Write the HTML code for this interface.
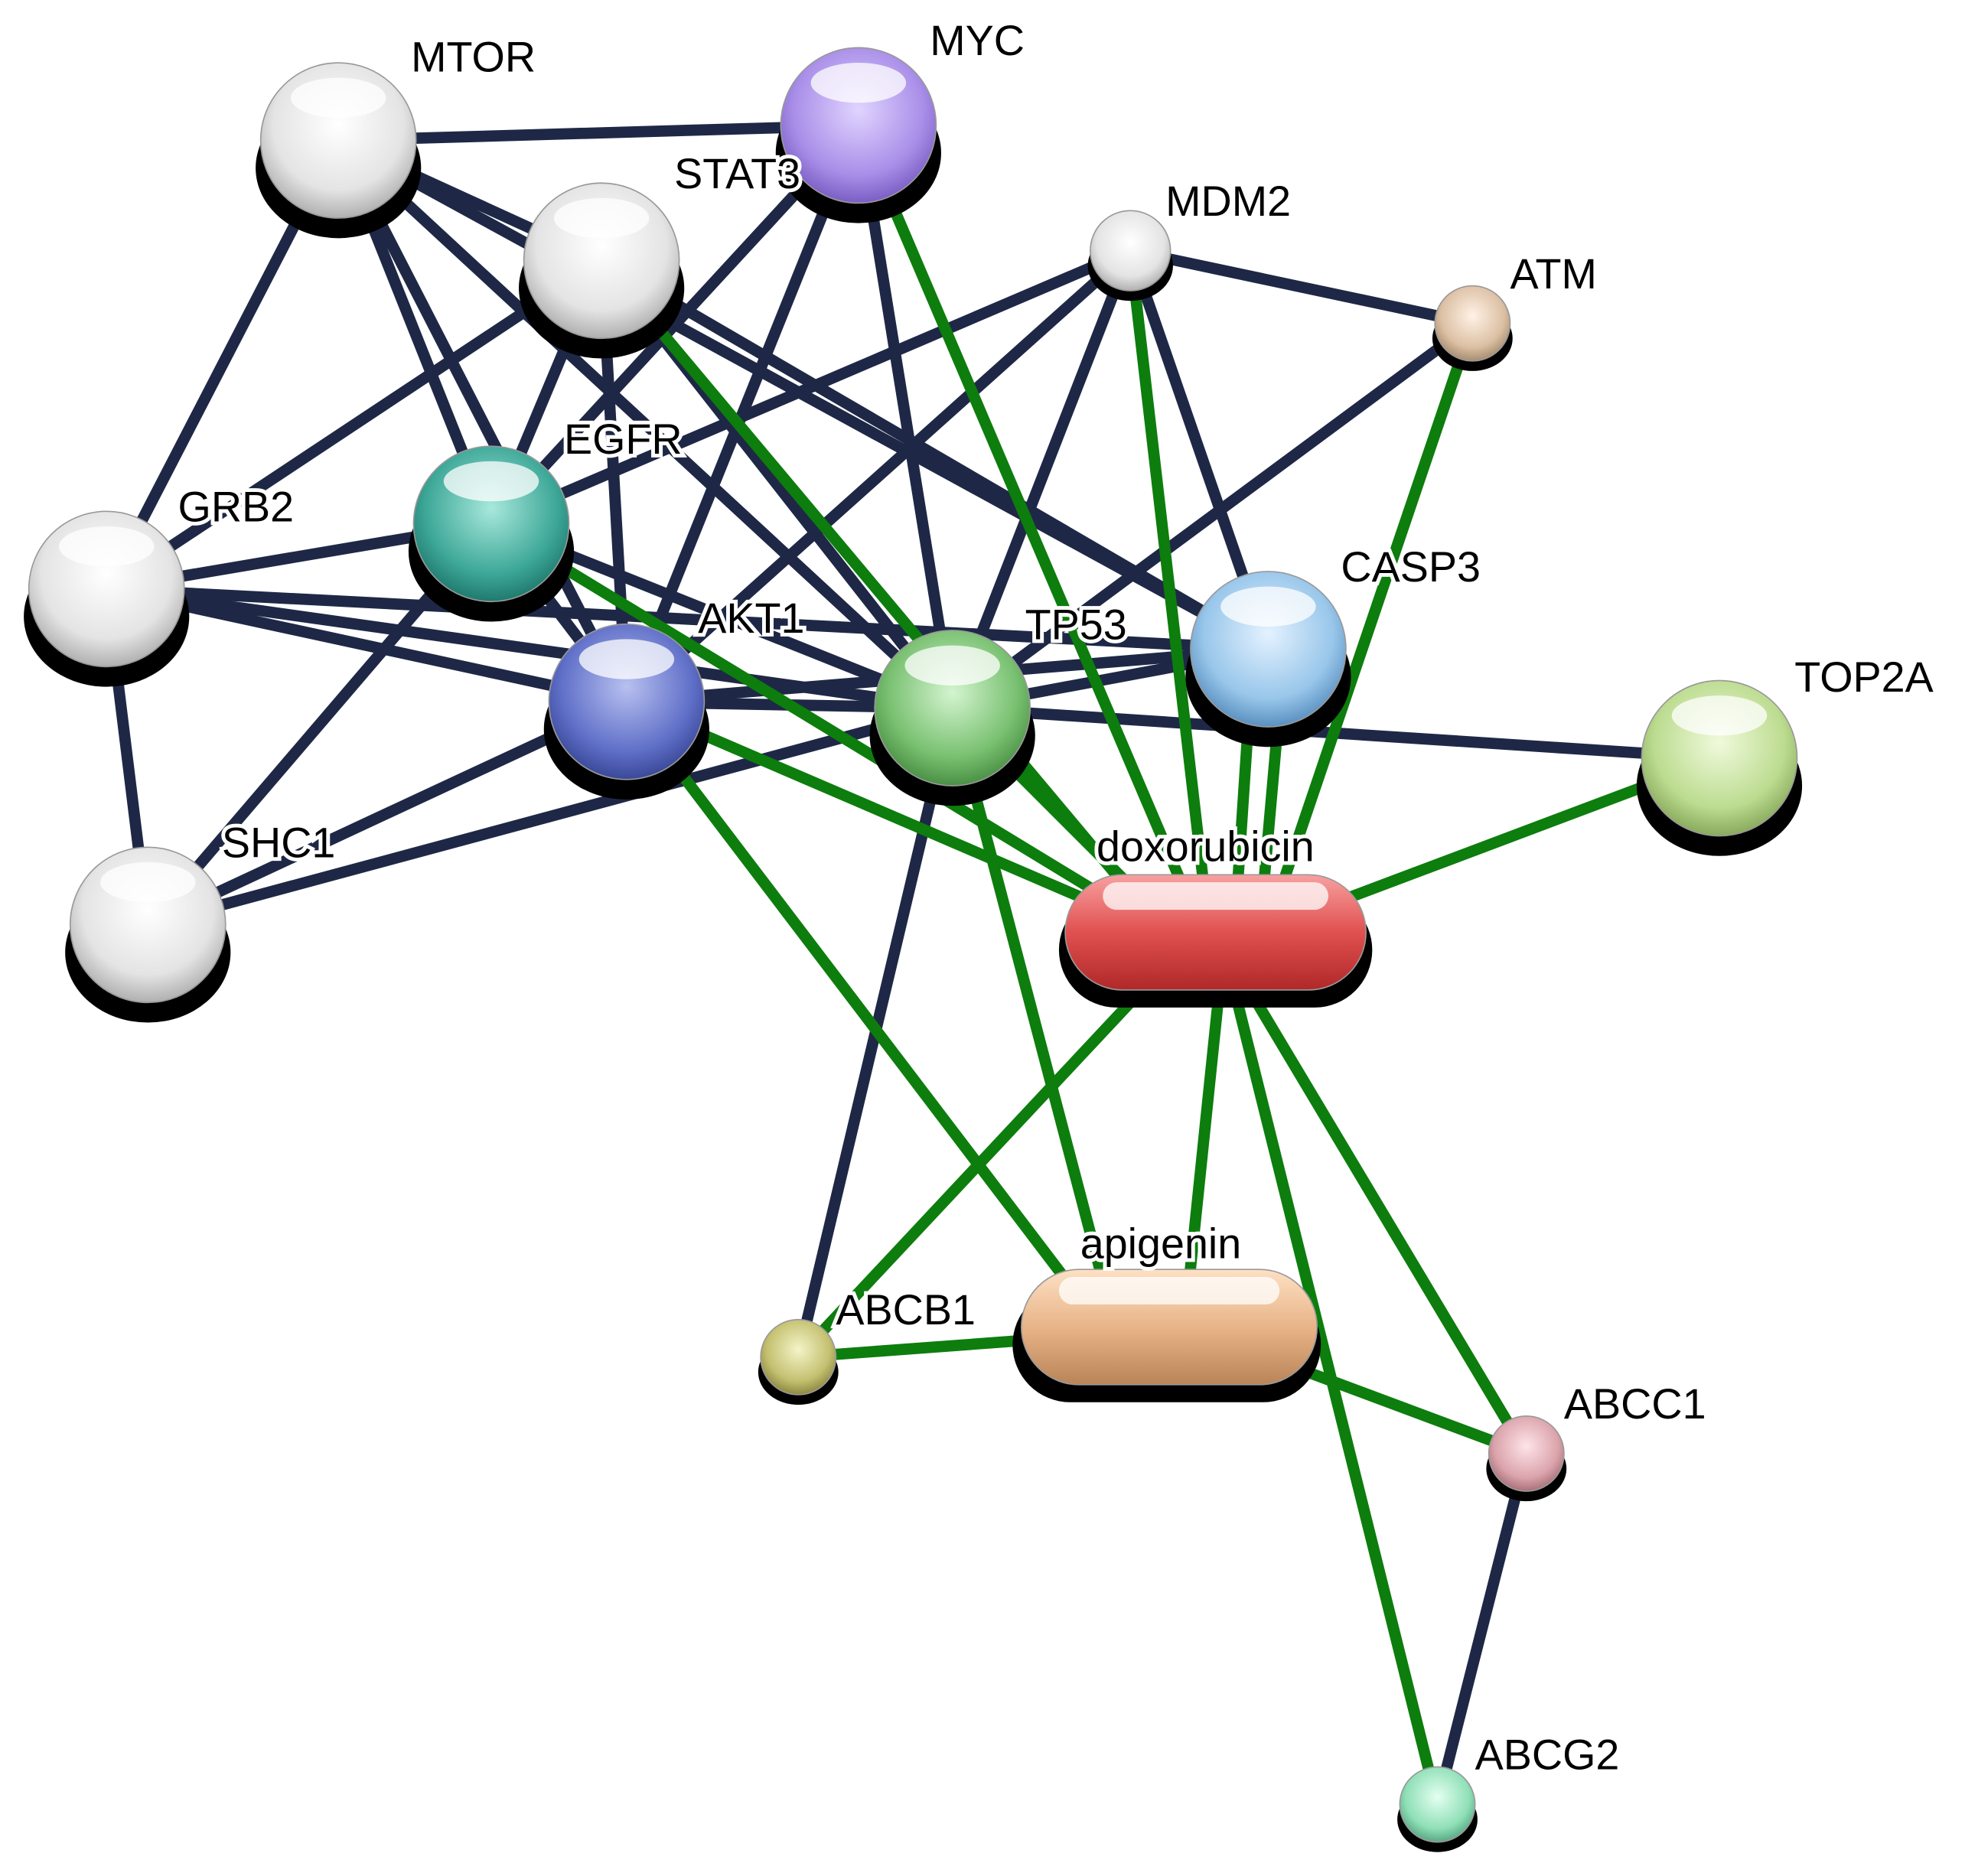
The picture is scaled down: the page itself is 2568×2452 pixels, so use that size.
<!DOCTYPE html>
<html><head><meta charset="utf-8"><style>
html,body{margin:0;padding:0;background:#fff;}
svg{display:block;}
text{font-family:"Liberation Sans",sans-serif;font-size:34px;fill:#000;stroke:#fff;stroke-width:6px;paint-order:stroke;}
</style></head><body>
<svg width="2568" height="2452" viewBox="0 0 1568 1497" xmlns="http://www.w3.org/2000/svg">
<defs>
<radialGradient id="gw" cx="50%" cy="40%" r="60%"><stop offset="0" stop-color="#fff"/><stop offset=".7" stop-color="#e4e4e4"/><stop offset="1" stop-color="#b0b0b0"/></radialGradient>
<radialGradient id="gm" cx="50%" cy="40%" r="60%"><stop offset="0" stop-color="#e0d4ff"/><stop offset=".7" stop-color="#a98ee8"/><stop offset="1" stop-color="#7a5ec4"/></radialGradient>
<radialGradient id="ge" cx="50%" cy="40%" r="60%"><stop offset="0" stop-color="#a8e8dc"/><stop offset=".7" stop-color="#3ea898"/><stop offset="1" stop-color="#1f7a6e"/></radialGradient>
<radialGradient id="ga" cx="50%" cy="40%" r="60%"><stop offset="0" stop-color="#b8c0f0"/><stop offset=".7" stop-color="#6070c8"/><stop offset="1" stop-color="#3a4898"/></radialGradient>
<radialGradient id="gt" cx="50%" cy="40%" r="60%"><stop offset="0" stop-color="#d4f4d0"/><stop offset=".7" stop-color="#78c070"/><stop offset="1" stop-color="#4a9045"/></radialGradient>
<radialGradient id="gc" cx="50%" cy="40%" r="60%"><stop offset="0" stop-color="#e4f2ff"/><stop offset=".7" stop-color="#98c6ea"/><stop offset="1" stop-color="#5a90c0"/></radialGradient>
<radialGradient id="gp" cx="50%" cy="40%" r="60%"><stop offset="0" stop-color="#f0fadc"/><stop offset=".7" stop-color="#bcdc90"/><stop offset="1" stop-color="#88aa5c"/></radialGradient>
<radialGradient id="gatm" cx="50%" cy="40%" r="60%"><stop offset="0" stop-color="#fff2e6"/><stop offset=".7" stop-color="#dcc0a4"/><stop offset="1" stop-color="#a88c70"/></radialGradient>
<radialGradient id="gb1" cx="50%" cy="40%" r="60%"><stop offset="0" stop-color="#f4f4c8"/><stop offset=".7" stop-color="#c4c070"/><stop offset="1" stop-color="#8c8840"/></radialGradient>
<radialGradient id="gcc" cx="50%" cy="40%" r="60%"><stop offset="0" stop-color="#fde4e8"/><stop offset=".7" stop-color="#dca4ac"/><stop offset="1" stop-color="#a87078"/></radialGradient>
<radialGradient id="gg2" cx="50%" cy="40%" r="60%"><stop offset="0" stop-color="#e4fff0"/><stop offset=".7" stop-color="#90e0b8"/><stop offset="1" stop-color="#58a884"/></radialGradient>
<linearGradient id="gdox" x1="0" y1="0" x2="0" y2="1"><stop offset="0" stop-color="#f8a0a0"/><stop offset=".5" stop-color="#e05050"/><stop offset="1" stop-color="#b02828"/></linearGradient>
<linearGradient id="gapi" x1="0" y1="0" x2="0" y2="1"><stop offset="0" stop-color="#fde0c4"/><stop offset=".5" stop-color="#e8b488"/><stop offset="1" stop-color="#b88458"/></linearGradient>
</defs>

<g stroke="#1e2846" stroke-width="9" stroke-linecap="round">
<line x1="270" y1="112" x2="685" y2="100"/>
<line x1="270" y1="112" x2="480" y2="208"/>
<line x1="270" y1="112" x2="392" y2="418"/>
<line x1="270" y1="112" x2="85" y2="470"/>
<line x1="270" y1="112" x2="500" y2="560"/>
<line x1="270" y1="112" x2="760" y2="565"/>
<line x1="270" y1="112" x2="1012" y2="518"/>
<line x1="685" y1="100" x2="392" y2="418"/>
<line x1="685" y1="100" x2="500" y2="560"/>
<line x1="685" y1="100" x2="760" y2="565"/>
<line x1="480" y1="208" x2="392" y2="418"/>
<line x1="480" y1="208" x2="85" y2="470"/>
<line x1="480" y1="208" x2="500" y2="560"/>
<line x1="480" y1="208" x2="760" y2="565"/>
<line x1="480" y1="208" x2="1012" y2="518"/>
<line x1="902" y1="200" x2="1175" y2="258"/>
<line x1="902" y1="200" x2="392" y2="418"/>
<line x1="902" y1="200" x2="500" y2="560"/>
<line x1="902" y1="200" x2="760" y2="565"/>
<line x1="902" y1="200" x2="1012" y2="518"/>
<line x1="1175" y1="258" x2="760" y2="565"/>
<line x1="392" y1="418" x2="85" y2="470"/>
<line x1="392" y1="418" x2="500" y2="560"/>
<line x1="392" y1="418" x2="760" y2="565"/>
<line x1="392" y1="418" x2="118" y2="738"/>
<line x1="85" y1="470" x2="500" y2="560"/>
<line x1="85" y1="470" x2="760" y2="565"/>
<line x1="85" y1="470" x2="1012" y2="518"/>
<line x1="85" y1="470" x2="118" y2="738"/>
<line x1="500" y1="560" x2="760" y2="565"/>
<line x1="500" y1="560" x2="118" y2="738"/>
<line x1="500" y1="560" x2="1012" y2="518"/>
<line x1="760" y1="565" x2="118" y2="738"/>
<line x1="760" y1="565" x2="1012" y2="518"/>
<line x1="760" y1="565" x2="1372" y2="605"/>
<line x1="760" y1="565" x2="637" y2="1083"/>
<line x1="1218" y1="1160" x2="1147" y2="1440"/>
</g>
<g stroke="#0d7d0d" stroke-width="9" stroke-linecap="round">
<line x1="685" y1="100" x2="960" y2="745"/>
<line x1="480" y1="208" x2="930" y2="745"/>
<line x1="392" y1="418" x2="930" y2="745"/>
<line x1="500" y1="560" x2="930" y2="745"/>
<line x1="500" y1="560" x2="880" y2="1060"/>
<line x1="760" y1="565" x2="940" y2="745"/>
<line x1="760" y1="565" x2="890" y2="1060"/>
<line x1="902" y1="200" x2="965" y2="745"/>
<line x1="1000" y1="518" x2="985" y2="745"/>
<line x1="1025" y1="518" x2="1005" y2="745"/>
<line x1="1175" y1="258" x2="1010" y2="745"/>
<line x1="1372" y1="605" x2="1000" y2="745"/>
<line x1="930" y1="770" x2="637" y2="1083"/>
<line x1="975" y1="770" x2="945" y2="1060"/>
<line x1="985" y1="770" x2="1218" y2="1160"/>
<line x1="980" y1="770" x2="1147" y2="1440"/>
<line x1="637" y1="1083" x2="880" y2="1065"/>
<line x1="990" y1="1075" x2="1218" y2="1160"/>
</g>

<g fill="#000">
<ellipse cx="270" cy="134" rx="66" ry="56"/>
<ellipse cx="685" cy="122" rx="66" ry="56"/>
<ellipse cx="480" cy="230" rx="66" ry="56"/>
<ellipse cx="902" cy="212" rx="34" ry="28"/>
<ellipse cx="1175" cy="270" rx="32" ry="26"/>
<ellipse cx="392" cy="440" rx="66" ry="56"/>
<ellipse cx="85" cy="492" rx="66" ry="56"/>
<ellipse cx="500" cy="582" rx="66" ry="56"/>
<ellipse cx="760" cy="587" rx="66" ry="56"/>
<ellipse cx="1012" cy="540" rx="66" ry="56"/>
<ellipse cx="1372" cy="627" rx="66" ry="56"/>
<ellipse cx="118" cy="760" rx="66" ry="56"/>
<ellipse cx="637" cy="1095" rx="32" ry="26"/>
<ellipse cx="1218" cy="1172" rx="32" ry="26"/>
<ellipse cx="1147" cy="1452" rx="32" ry="26"/>
<rect x="845" y="712" width="250" height="92" rx="46"/>
<rect x="808" y="1027" width="246" height="92" rx="46"/>
</g>

<g stroke="#999" stroke-width="1">
<circle cx="270" cy="112" r="62" fill="url(#gw)"/>
<circle cx="685" cy="100" r="62" fill="url(#gm)"/>
<circle cx="480" cy="208" r="62" fill="url(#gw)"/>
<circle cx="902" cy="200" r="32" fill="url(#gw)"/>
<circle cx="1175" cy="258" r="30" fill="url(#gatm)"/>
<circle cx="392" cy="418" r="62" fill="url(#ge)"/>
<circle cx="85" cy="470" r="62" fill="url(#gw)"/>
<circle cx="500" cy="560" r="62" fill="url(#ga)"/>
<circle cx="760" cy="565" r="62" fill="url(#gt)"/>
<circle cx="1012" cy="518" r="62" fill="url(#gc)"/>
<circle cx="1372" cy="605" r="62" fill="url(#gp)"/>
<circle cx="118" cy="738" r="62" fill="url(#gw)"/>
<circle cx="637" cy="1083" r="30" fill="url(#gb1)"/>
<circle cx="1218" cy="1160" r="30" fill="url(#gcc)"/>
<circle cx="1147" cy="1440" r="30" fill="url(#gg2)"/>
<rect x="850" y="698" width="240" height="92" rx="46" fill="url(#gdox)"/>
<rect x="815" y="1013" width="236" height="92" rx="46" fill="url(#gapi)"/>
</g>
<g fill="#fff" opacity=".75">
<ellipse cx="270" cy="78" rx="38" ry="16"/>
<ellipse cx="685" cy="66" rx="38" ry="16"/>
<ellipse cx="480" cy="174" rx="38" ry="16"/>
<ellipse cx="392" cy="384" rx="38" ry="16"/>
<ellipse cx="85" cy="436" rx="38" ry="16"/>
<ellipse cx="500" cy="526" rx="38" ry="16"/>
<ellipse cx="760" cy="531" rx="38" ry="16"/>
<ellipse cx="1012" cy="484" rx="38" ry="16"/>
<ellipse cx="1372" cy="571" rx="38" ry="16"/>
<ellipse cx="118" cy="704" rx="38" ry="16"/>
<rect x="880" y="704" width="180" height="22" rx="11"/>
<rect x="845" y="1019" width="176" height="22" rx="11"/>
</g>

<text x="328" y="57">MTOR</text>
<text x="742" y="44">MYC</text>
<text x="538" y="150">STAT3</text>
<text x="930" y="172">MDM2</text>
<text x="1205" y="230">ATM</text>
<text x="450" y="362">EGFR</text>
<text x="142" y="416">GRB2</text>
<text x="557" y="505">AKT1</text>
<text x="818" y="510">TP53</text>
<text x="1070" y="464">CASP3</text>
<text x="1432" y="552">TOP2A</text>
<text x="177" y="684">SHC1</text>
<text x="875" y="687">doxorubicin</text>
<text x="862" y="1004">apigenin</text>
<text x="667" y="1057">ABCB1</text>
<text x="1248" y="1132">ABCC1</text>
<text x="1177" y="1412">ABCG2</text>
</svg>
</body></html>
